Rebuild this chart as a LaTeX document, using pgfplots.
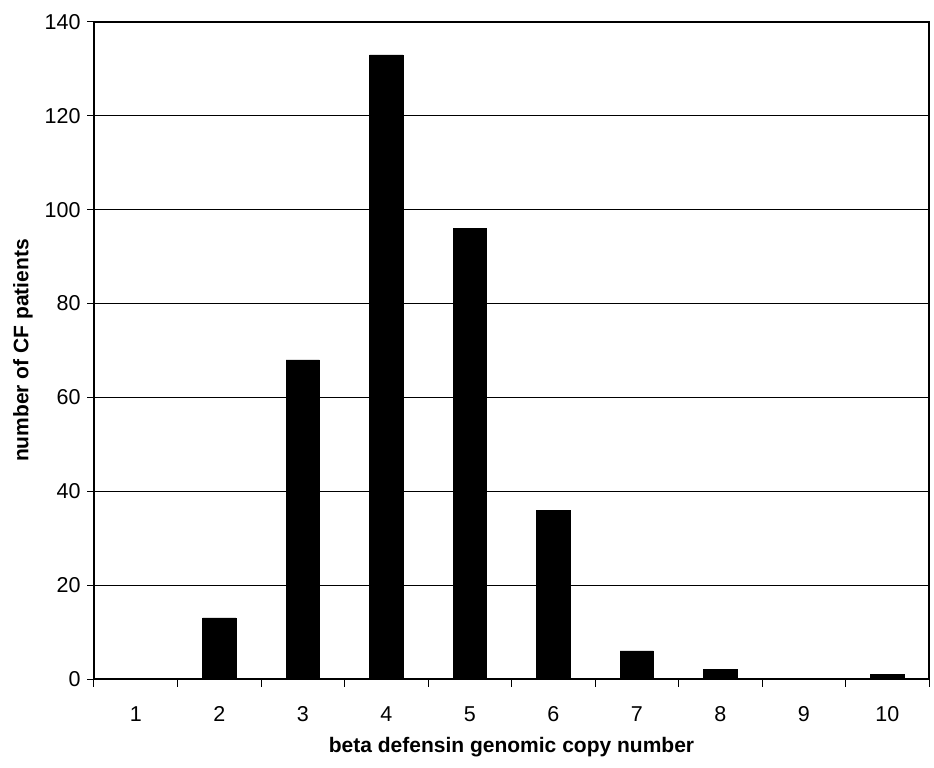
\documentclass[border=0pt]{standalone}
\usepackage{pgfplots}
\pgfplotsset{compat=1.18}
\usepackage{fontspec}
\setmainfont{Liberation Sans}
\begin{document}
\begin{tikzpicture}
\begin{axis}[
  scale only axis,
  width=835pt, height=657pt,
  xmin=0.5, xmax=10.5, ymin=0, ymax=140,
  ytick={0,20,...,140},
  xtick={1,...,10},
  minor xtick={0.5,1.5,...,10.5},
  xtick pos=bottom, ytick pos=left,
  major x tick style={draw=none},
  minor x tick style={black, line width=1pt},
  minor tick length=8pt,
  major tick length=7pt,
  tick align=outside,
  y tick style={black, line width=1pt},
  ymajorgrids,
  grid style={black, line width=0.9pt},
  axis line style={black, line width=1.1pt},
  tick label style={font=\fontsize{21.5}{24}\selectfont},
  /pgf/number format/assume math mode=true,
  xticklabel style={yshift=-17pt},
  yticklabel style={xshift=-3pt},
  xlabel={\textbf{beta defensin genomic copy number}},
  ylabel={\textbf{number of CF patients}},
  label style={font=\fontsize{21}{24}\selectfont},
  xlabel style={yshift=-9pt},
  ylabel style={yshift=5pt},
  clip=false,
]
\addplot[ybar, bar width=0.4, fill=black, draw=black, bar shift=0pt] coordinates {
(2,13) (3,68) (4,133) (5,96) (6,36) (7,6) (8,2) (10,1)
};
\coordinate (sw) at (rel axis cs:0,0);
\coordinate (ne) at (rel axis cs:1,1);
\end{axis}
\pgfresetboundingbox
\useasboundingbox ([shift={(-94pt,-89pt)}]sw) rectangle ([shift={(5pt,22pt)}]ne);
\end{tikzpicture}
\end{document}
